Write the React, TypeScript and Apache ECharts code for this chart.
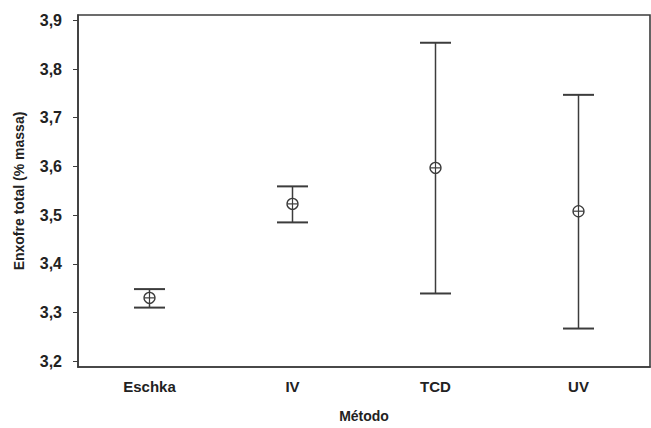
import React, { useEffect, useRef } from "react";
import * as echarts from "echarts";

const categories = ["Eschka", "IV", "TCD", "UV"];
const means = [3.330, 3.523, 3.597, 3.508];
const lowers = [3.310, 3.485, 3.339, 3.267];
const uppers = [3.348, 3.559, 3.854, 3.747];
const yTicks = [3.2, 3.3, 3.4, 3.5, 3.6, 3.7, 3.8, 3.9];

const LINE = "#3c3c3c";
const TEXT = "#222222";
const FONT = "'Liberation Sans', Arial, sans-serif";

export default function App() {
  const ref = useRef<HTMLDivElement>(null);
  useEffect(() => {
    if (!ref.current) return;
    const chart = echarts.init(ref.current, null, { renderer: "svg" });
    const data = categories.map((c, i) => [i, means[i], lowers[i], uppers[i]]);
    chart.setOption({
      animation: false,
      backgroundColor: "#ffffff",
      grid: { left: 78, right: 1, top: 15, bottom: 55, show: true, borderColor: LINE, borderWidth: 1.6 },
      xAxis: {
        type: "category",
        data: categories,
        boundaryGap: true,
        name: "Método",
        nameLocation: "middle",
        nameGap: 42,
        nameTextStyle: { fontFamily: FONT, fontWeight: "bold", fontSize: 14, color: TEXT },
        axisLine: { lineStyle: { color: LINE, width: 1.6 } },
        axisTick: { alignWithLabel: true, length: 5, lineStyle: { color: LINE } },
        axisLabel: { margin: 12, fontFamily: FONT, fontWeight: "bold", fontSize: 15, color: TEXT },
        splitLine: { show: false },
      },
      yAxis: {
        type: "value",
        min: 3.188,
        max: 3.911,
        name: "Enxofre total (% massa)",
        nameLocation: "middle",
        nameGap: 52,
        nameTextStyle: { fontFamily: FONT, fontWeight: "bold", fontSize: 14, color: TEXT },
        axisLine: { show: true, lineStyle: { color: LINE, width: 1.6 } },
        axisTick: { show: true, length: 5, customValues: yTicks, lineStyle: { color: LINE } },
        axisLabel: {
          margin: 16,
          customValues: yTicks,
          fontFamily: FONT,
          fontWeight: "bold",
          fontSize: 16,
          color: TEXT,
          formatter: (v: number) => v.toFixed(1).replace(".", ","),
        },
        splitLine: { show: false },
      },
      series: [
        {
          type: "custom",
          data,
          renderItem: (params: any, api: any) => {
            const x = api.value(0);
            const pm = api.coord([x, api.value(1)]);
            const pl = api.coord([x, api.value(2)]);
            const pu = api.coord([x, api.value(3)]);
            const hw = 15.5;
            const r = 5.5;
            const style = { stroke: LINE, lineWidth: 1.5, fill: "none" };
            return {
              type: "group",
              children: [
                { type: "line", shape: { x1: pl[0], y1: pl[1], x2: pu[0], y2: pu[1] }, style },
                { type: "line", shape: { x1: pu[0] - hw, y1: pu[1], x2: pu[0] + hw, y2: pu[1] }, style: { ...style, lineWidth: 2 } },
                { type: "line", shape: { x1: pl[0] - hw, y1: pl[1], x2: pl[0] + hw, y2: pl[1] }, style: { ...style, lineWidth: 2 } },
                { type: "circle", shape: { cx: pm[0], cy: pm[1], r }, style: { stroke: LINE, lineWidth: 1.3, fill: "#ffffff" } },
                { type: "line", shape: { x1: pm[0] - r, y1: pm[1], x2: pm[0] + r, y2: pm[1] }, style: { stroke: LINE, lineWidth: 1.2 } },
                { type: "line", shape: { x1: pm[0], y1: pm[1] - r, x2: pm[0], y2: pm[1] + r }, style: { stroke: LINE, lineWidth: 1.2 } },
              ],
            };
          },
        },
      ],
    });
    return () => chart.dispose();
  }, []);
  return <div ref={ref} style={{ width: 651, height: 428, position: "absolute", left: 0, top: 0 }} />;
}
